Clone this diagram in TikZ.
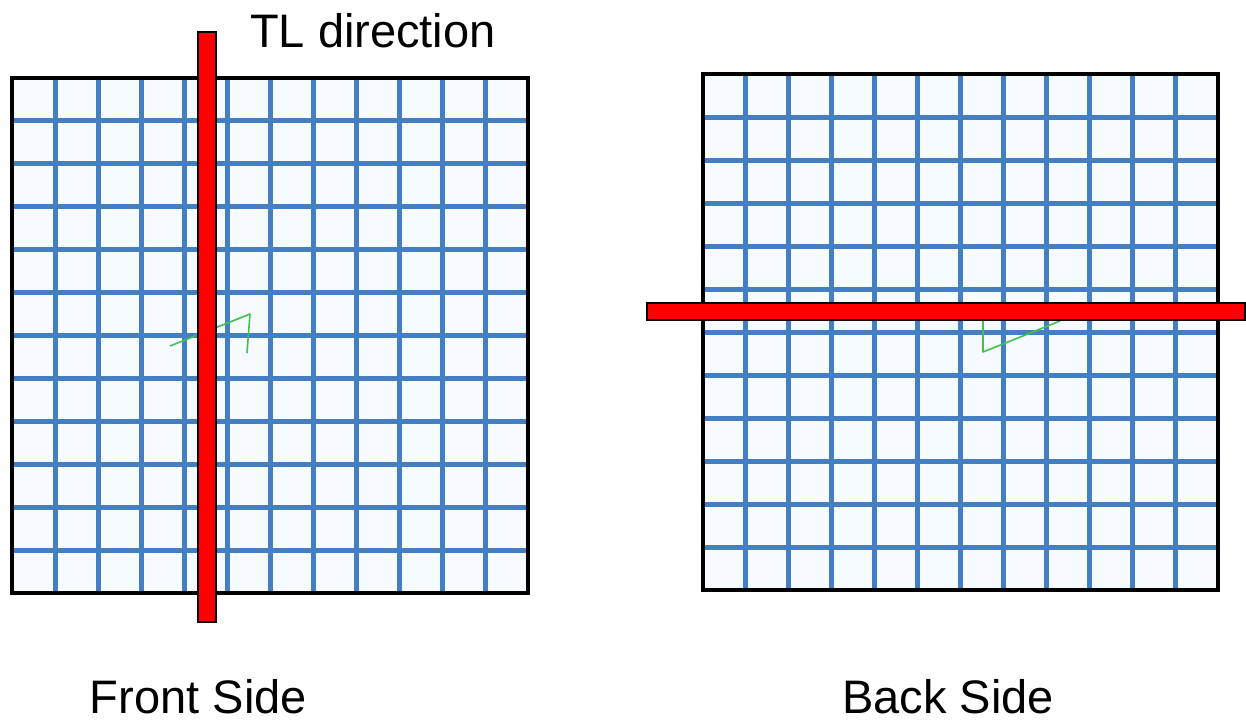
\documentclass[tikz,border=0pt]{standalone}
\usepackage{fontspec}
\setmainfont{Liberation Sans}
\definecolor{gridblue}{RGB}{68,127,196}
\definecolor{cellfill}{RGB}{246,251,255}
\definecolor{markgreen}{RGB}{70,190,80}
\definecolor{barred}{RGB}{255,0,0}
\tikzset{
  gridline/.style={draw=gridblue, line width=5pt},
  border/.style={draw=black, line width=3.5pt},
  redbar/.style={fill=barred, draw=black, line width=2.5pt},
  greenmark/.style={draw=markgreen, line width=1.6pt, line join=round},
  label/.style={inner sep=0pt, font=\fontsize{47}{56}\selectfont}
}
\begin{document}
\begin{tikzpicture}[x=1pt,y=-1pt]
\useasboundingbox (0,0) rectangle (1246,723);
% ---- left grid (front side)
\fill[cellfill] (12,78) rectangle (528,593);
\foreach \k in {1,...,11} {
  \draw[gridline] ({12+\k*43},78) -- ({12+\k*43},593);
  \draw[gridline] (12,{78+\k*42.92}) -- (528,{78+\k*42.92});
}
\draw[border] (12,78) rectangle (528,593);
% ---- right grid (back side)
\fill[cellfill] (703,74) rectangle (1218,590);
\foreach \k in {1,...,11} {
  \draw[gridline] ({703+\k*42.92},74) -- ({703+\k*42.92},590);
  \draw[gridline] (703,{74+\k*43}) -- (1218,{74+\k*43});
}
\draw[border] (703,74) rectangle (1218,590);
% ---- green marks
\draw[greenmark] (170,346) -- (250,314) -- (247,353);
\draw[greenmark] (983,320) -- (983,352) -- (1060,321);
% ---- red bars
\draw[redbar] (198,32) rectangle (216,622);
\draw[redbar] (647,303) rectangle (1245,320);
% ---- labels
\node[label, anchor=base west] (tl) at (250,47) {TL direction};
\node[label, anchor=base east] (front) at (307,713) {Front Side};
\node[label, anchor=base east] (back) at (1054,713) {Back Side};
\end{tikzpicture}
\end{document}
